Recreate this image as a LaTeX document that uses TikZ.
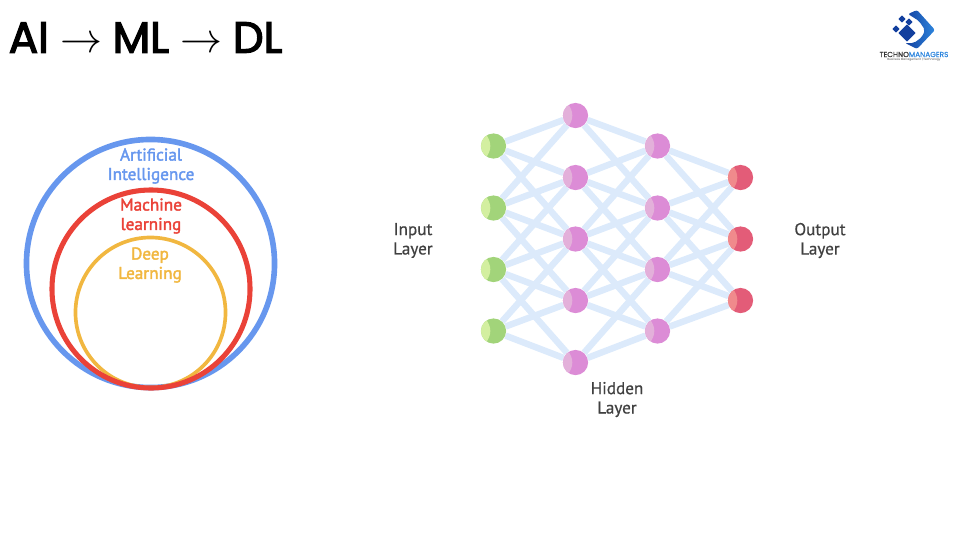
\documentclass[tikz,border=0pt]{standalone}
\usepackage{fontspec}
\usepackage{amsmath}
\setmainfont{Poppins}
\newfontfamily\handfont{PT Sans}
\usetikzlibrary{backgrounds,calc,shapes.geometric}
\definecolor{colorAI}{HTML}{6797EE}
\definecolor{colorML}{HTML}{EA4238}
\definecolor{colorDL}{HTML}{F1B740}
\definecolor{colorEdge}{HTML}{DCEAFB}
\definecolor{colorIn}{HTML}{A2D47A}
\definecolor{colorInL}{HTML}{D3EFA0}
\definecolor{colorHid}{HTML}{DC8CD6}
\definecolor{colorHidL}{HTML}{E3B0DA}
\definecolor{colorOut}{HTML}{E35C78}
\definecolor{colorOutL}{HTML}{F08A8C}
\definecolor{colorLogoA}{HTML}{123F9E}
\definecolor{colorLogoB}{HTML}{2E86DE}
\newcommand{\titlearrow}{\scalebox{1.2}{$\rightarrow$}}
\tikzset{
   ring/.style={circle,draw=#1,inner sep=0pt,line width=4pt},
   unit/.style n args={2}{circle,inner sep=0pt,minimum size=0.63cm,fill=#1,
      path picture={\fill[#2] ($(path picture bounding box.center)+(-0.5cm,0)$) circle (0.42cm);}},
   unitIn/.style={unit={colorIn}{colorInL}},
   unitHid/.style={unit={colorHid}{colorHidL}},
   unitOut/.style={unit={colorOut}{colorOutL}},
   link/.style={draw=colorEdge,line width=4.6pt},
   tag/.style={align=center,inner sep=0pt,font=\handfont\fontsize{12.2}{13.8}\selectfont\addfontfeature{FakeBold=0.6}},
   tagbold/.style={tag,font=\handfont\fontsize{12.2}{13.8}\selectfont\addfontfeature{FakeBold=2.2}},
   chip/.style={diamond,aspect=1,inner sep=0pt,fill=colorLogoA,rounded corners=0.3pt},
}
\begin{document}
\begin{tikzpicture}[x=0.025cm,y=-0.025cm]
\useasboundingbox (0,0) rectangle (960,540);

\node[anchor=west,inner sep=0pt,font=\fontsize{31}{36}\selectfont\addfontfeature{FakeBold=3}] (title) at (8.5,37.5) {AI\kern8pt\titlearrow\kern7.5pt ML\kern8pt\titlearrow\kern7.5pt DL};

% nested circles
\node[ring=colorAI,minimum size=6.2cm] (ai) at (150.5,263.5) {};
\node[ring=colorDL,line width=2.6pt,minimum size=3.75cm] (dl) at (150.5,312.5) {};
\node[ring=colorML,line width=3.6pt,minimum size=4.95cm] (ml) at (151,289) {};
\node[tagbold,text=colorAI] (ailabel) at (151,166) {Artificial\\Intelligence};
\node[tagbold,text=colorML] (mllabel) at (151,216) {Machine\\learning};
\node[tagbold,text=colorDL] (dllabel) at (150,265) {Deep\\Learning};

% network
\foreach \i/\y in {1/146,2/208,3/269.5,4/331}
  \node[unitIn] (in\i) at (493.5,\y) {};
\foreach \i/\y in {1/115.5,2/177.5,3/239,4/300.5,5/362.5}
  \node[unitHid] (ha\i) at (575.5,\y) {};
\foreach \i/\y in {1/146,2/208,3/269.5,4/331}
  \node[unitHid] (hb\i) at (657.5,\y) {};
\foreach \i/\y in {1/177.5,2/239,3/300.5}
  \node[unitOut] (out\i) at (740.5,\y) {};
\begin{scope}[on background layer]
\foreach \a/\b in {1/1,1/2,1/3,2/1,2/2,2/3,2/4,3/2,3/3,3/4,3/5,4/3,4/4,4/5}
  \draw[link] (in\a) -- (ha\b);
\foreach \a/\b in {1/1,1/2,2/1,2/2,2/3,3/1,3/2,3/3,3/4,4/2,4/3,4/4,5/3,5/4}
  \draw[link] (ha\a) -- (hb\b);
\foreach \a/\b in {1/1,1/2,2/1,2/2,2/3,3/1,3/2,3/3,4/2,4/3}
  \draw[link] (hb\a) -- (out\b);
\end{scope}
\node[tag,text=black!75] (inlabel) at (413,240.5) {Input\\Layer};
\node[tag,text=black!75] (hidlabel) at (617,399.5) {Hidden\\Layer};
\node[tag,text=black!75] (outlabel) at (820,240.5) {Output\\Layer};

% logo
\shade[left color=colorLogoA,right color=colorLogoB,rounded corners=1.5pt]
  (908,14) -- (917,10) -- (935,30) -- (917,49) -- (905,43) -- (914,43) -- (922,37) -- (925,30) -- (919,21) -- cycle;
\node[chip,minimum size=0.44cm] (chipa) at (907,33) {};
\node[chip,minimum size=0.19cm] (chipb) at (909,22) {};
\node[chip,minimum size=0.19cm] (chipc) at (896,29) {};
\node[chip,minimum size=0.19cm] (chipd) at (902,19) {};
\node[inner sep=0pt,font=\fontsize{5.2}{6}\selectfont\addfontfeature{FakeBold=0.5}] (logoname) at (914,54.5) {\textcolor{black!80}{TECHNO}\textcolor{colorLogoB}{MANAGERS}};
\node[inner sep=0pt,font=\fontsize{2.1}{3}\selectfont,text=black!70] (logosub) at (914,60) {Business Management | Technology};
\end{tikzpicture}
\end{document}
